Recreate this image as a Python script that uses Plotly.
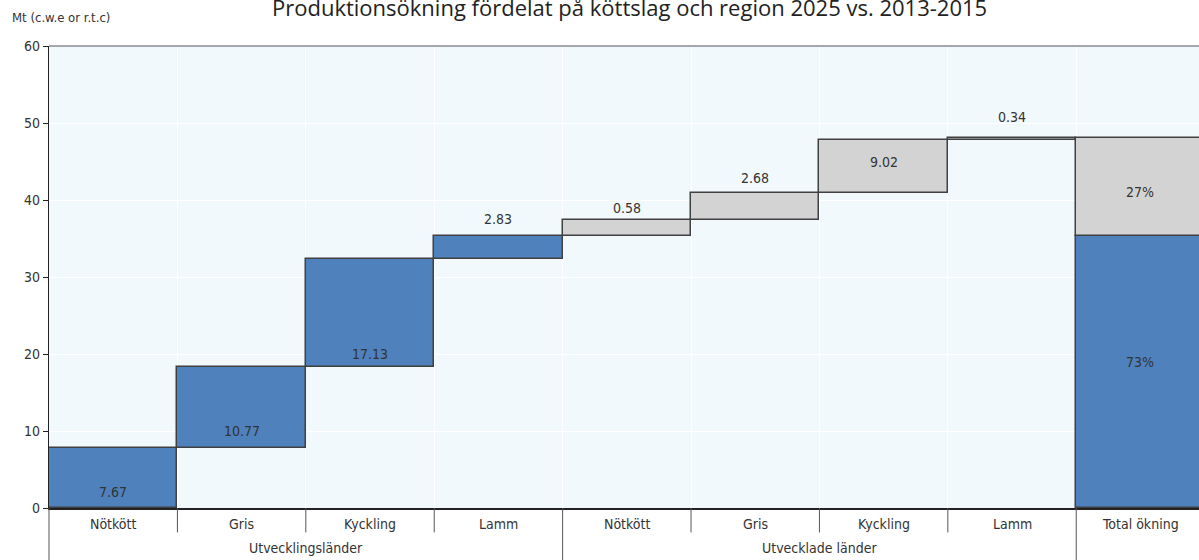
import plotly.graph_objects as go
import numpy as np

# ---- data ----
categories = ["Nötkött", "Gris", "Kyckling", "Lamm",
              "Nötkött", "Gris", "Kyckling", "Lamm", "Total ökning"]
groups = ["Utvecklingsländer", "Utvecklade länder"]
dev_values = [7.84, 10.43, 14.02, 3.02]        # Utvecklingsländer (bar heights)
devd_values = [2.07, 3.59, 6.87, 0.15]         # Utvecklade länder (bar heights)
dev_labels = ["7.67", "10.77", "17.13", "2.83"]
devd_labels = ["0.58", "2.68", "9.02", "0.34"]
total_labels = ["73%", "27%"]
y_ticks = [0, 10, 20, 30, 40, 50, 60]

# ---- styles ----
BLUE = "#4F81BD"
GREY = "#D3D3D3"
EDGE = "#404040"
BG = "#F2F9FD"
FONT = "DejaVu Sans Condensed, Liberation Sans, Arial"
FS = 14
TXT = "#333333"

incs = dev_values + devd_values
tops = np.cumsum(incs)
bases = tops - np.array(incs)
n = len(incs)
xs = list(range(n))
colors = [BLUE] * len(dev_values) + [GREY] * len(devd_values)

dev_total = float(np.sum(dev_values))
grand_total = float(np.sum(incs))

fig = go.Figure()
fig.add_trace(go.Bar(x=xs, y=incs, base=bases, width=1.0,
                     marker=dict(color=colors, line=dict(color=EDGE, width=1.5)),
                     hoverinfo="skip", showlegend=False))
# total column
fig.add_trace(go.Bar(x=[n], y=[dev_total], base=[0], width=1.0,
                     marker=dict(color=BLUE, line=dict(color=EDGE, width=1.5)),
                     hoverinfo="skip", showlegend=False))
fig.add_trace(go.Bar(x=[n], y=[grand_total - dev_total], base=[dev_total], width=1.0,
                     marker=dict(color=GREY, line=dict(color=EDGE, width=1.5)),
                     hoverinfo="skip", showlegend=False))

H, W = 560, 1199
mt, mb, ml = 45.5, 51.5, 49
ph = H - mt - mb

annotations = []
# label placement: ('in', shift) = above bar base; ('out', shift) = above bar top
placement = [("in", 16), ("in", 17), ("in", 13), ("out", 17),
             ("out", 12), ("out", 15), ("in", 31), ("out", 21)]
labels = dev_labels + devd_labels
for i, (lab, (mode, sh)) in enumerate(zip(labels, placement)):
    yv = bases[i] if mode == "in" else tops[i]
    annotations.append(dict(x=xs[i], y=yv, xref="x", yref="y", text=lab,
                            showarrow=False, yshift=sh,
                            font=dict(family=FONT, size=FS, color=TXT)))
annotations.append(dict(x=n, y=dev_total / 2, xref="x", yref="y", text=total_labels[0],
                        showarrow=False, yshift=10,
                        font=dict(family=FONT, size=FS, color=TXT)))
annotations.append(dict(x=n, y=(dev_total + grand_total) / 2, xref="x", yref="y",
                        text=total_labels[1], showarrow=False, yshift=-5,
                        font=dict(family=FONT, size=FS, color=TXT)))

# category labels below axis
for i, c in enumerate(categories):
    annotations.append(dict(x=i, y=0, xref="x", yref="paper", text=c, showarrow=False,
                            yanchor="middle", yshift=-15.5,
                            font=dict(family=FONT, size=FS, color=TXT)))
# group labels
for gx, g in zip([1.5, 5.5], groups):
    annotations.append(dict(x=gx, y=0, xref="x", yref="paper", text=g, showarrow=False,
                            yanchor="middle", yshift=-40,
                            font=dict(family=FONT, size=FS, color=TXT)))
# axis title
annotations.append(dict(x=(10 - ml) / (W - ml), y=(H - mb - 17) / ph, xref="paper", yref="paper",
                        text="Mt (c.w.e or r.t.c)", showarrow=False,
                        xanchor="left", yanchor="middle",
                        font=dict(family=FONT, size=FS - 1, color=TXT)))
# title (partly above the top edge, as in the reference)
annotations.append(dict(x=0.505, y=1.0, xref="paper", yref="paper",
                        text="Produktionsökning fördelat på köttslag och region 2025 vs. 2013-2015",
                        showarrow=False, yanchor="bottom", yshift=22,
                        font=dict(family="Open Sans, Noto Sans", size=22, color="#222222")))

shapes = []
# top border line
shapes.append(dict(type="line", xref="paper", yref="paper", x0=0, x1=1, y0=1, y1=1,
                   line=dict(color="#555555", width=1.2)))
# dividers below axis
short = -(533 - (H - mb)) / ph
longd = -0.2
for b in [0.5, 1.5, 2.5, 4.5, 5.5, 6.5]:
    shapes.append(dict(type="line", xref="x", yref="paper", x0=b, x1=b, y0=0, y1=short,
                       line=dict(color="#555555", width=1)))
for b in [3.5, 7.5]:
    shapes.append(dict(type="line", xref="x", yref="paper", x0=b, x1=b, y0=0, y1=longd,
                       line=dict(color="#555555", width=1)))
shapes.append(dict(type="line", xref="paper", yref="paper", x0=0, x1=0, y0=0, y1=longd,
                   line=dict(color="#555555", width=1)))

fig.update_layout(
    width=W, height=H,
    margin=dict(l=ml, r=0, t=mt, b=mb, pad=0, autoexpand=False),
    paper_bgcolor="white", plot_bgcolor=BG,
    barmode="overlay", bargap=0,
    annotations=annotations, shapes=shapes,
    showlegend=False,
)
fig.update_xaxes(range=[-0.5, 8.456], tickvals=[i + 0.5 for i in range(8)],
                 showticklabels=False, showgrid=True, gridcolor="white", gridwidth=1,
                 zeroline=False, showline=True, linecolor="#222222", linewidth=1.5,
                 ticks="", automargin=False)
fig.update_yaxes(range=[0, 60], tickvals=y_ticks, showgrid=True, gridcolor="white",
                 gridwidth=1, zeroline=False, showline=True, linecolor="#222222",
                 linewidth=1.2, ticks="outside", ticklen=5, tickcolor="#222222",
                 automargin=False,
                 tickfont=dict(family=FONT, size=FS, color=TXT))

fig.write_html("out.html",
               config={"displayModeBar": False},
               post_script="document.body.style.margin='0';document.body.style.overflow='hidden';")
